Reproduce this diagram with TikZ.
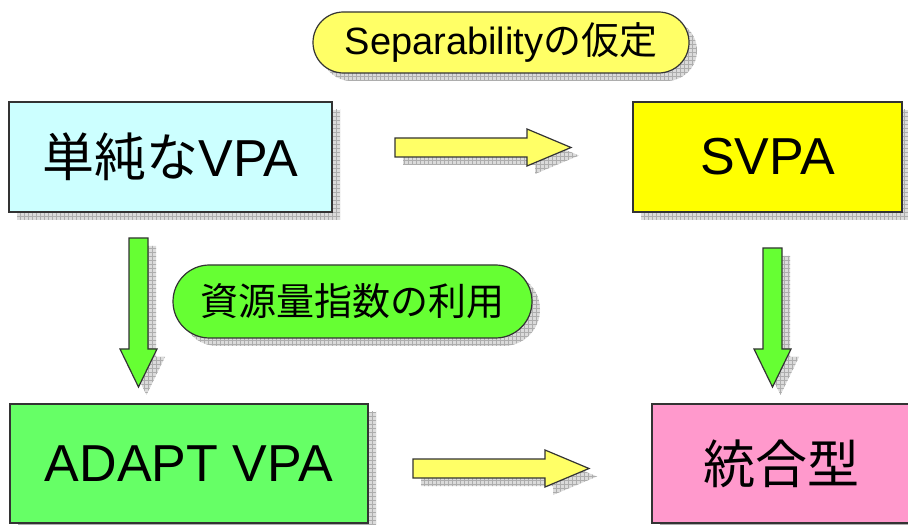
\documentclass[tikz,border=0pt]{standalone}
\usepackage{fontspec}
\setmainfont{Liberation Sans}
\newfontfamily\jpfont{Noto Sans CJK JP}
\usetikzlibrary{shapes, shapes.misc, arrows, shadows, calc, positioning, patterns.meta}
\definecolor{boxcyan}{rgb}{0.8, 1.0, 1.0}
\definecolor{boxyellow}{rgb}{1.0, 1.0, 0}
\definecolor{boxgreen}{rgb}{0.4, 1.0, 0.4}
\definecolor{boxpink}{rgb}{1.0, 0.6, 0.8}
\definecolor{lemon}{rgb}{1.0, 1.0, 0.4}
\definecolor{lime}{rgb}{0.4, 1.0, 0.2}

\tikzset{
    gridshadow/.style={
        drop shadow={shadow xshift=4pt, shadow yshift=-4pt, opacity=1, fill=black!14},
        drop shadow={shadow xshift=4pt, shadow yshift=-4pt, opacity=1,
            pattern={Hatch[angle=0, distance=2pt, line width=0.3pt]}, pattern color=black!32}},
    block/.style={draw=black!80, line width=0.6pt, rectangle, inner sep=0pt, gridshadow,
        font=\fontsize{26pt}{31pt}\selectfont},
    bubble/.style={draw=black!80, line width=0.6pt, rounded rectangle, inner sep=0pt, gridshadow},
    blockarrow/.style={draw=black!80, line width=0.6pt, line join=miter, gridshadow}
}

% fat arrows: tail point, length, colour
\newcommand{\harrow}[3]{%
    \draw[blockarrow, fill=#3] #1 -- ++(0,9.5) -- ++({#2-44},0) -- ++(0,9) -- ++(44,-18.5)
        -- ++(-44,-18.5) -- ++(0,9) -- ++({44-#2},0) -- cycle;}
\newcommand{\varrow}[3]{%
    \draw[blockarrow, fill=#3] #1 -- ++(9.5,0) -- ++(0,{38-#2}) -- ++(9,0) -- ++(-18.5,-38)
        -- ++(-18.5,38) -- ++(9,0) -- ++(0,{#2-38}) -- cycle;}

\begin{document}
\begin{tikzpicture}[x=0.5pt, y=0.5pt]
    \clip (0,0) rectangle (908,524);

    \node[block, fill=boxcyan, minimum width=161.5pt, minimum height=55pt] (simple) at (170.5,367) {{\jpfont 単純な}VPA};
    \node[block, fill=boxyellow, minimum width=134.5pt, minimum height=55pt] (svpa) at (767.5,367) {SVPA};
    \node[block, fill=boxgreen, minimum width=179pt, minimum height=59.5pt] (adapt) at (189,60.5) {ADAPT VPA};
    \node[block, fill=boxpink, minimum width=129pt, minimum height=59.5pt] (merged) at (781,60.5) {\jpfont 統合型};

    \node[bubble, fill=lemon, minimum width=188pt, minimum height=30.5pt,
        font=\fontsize{19pt}{23pt}\selectfont] (sep) at (501,481.5) {Separability{\jpfont の仮定}};
    \node[bubble, fill=lime, minimum width=179.5pt, minimum height=36.5pt,
        font=\jpfont\fontsize{19pt}{23pt}\selectfont] (res) at (352.5,222.5) {資源量指数の利用};

    \harrow{(395,376.5)}{176}{lemon}
    \harrow{(413,55.5)}{176}{lemon}
    \varrow{(138.5,286)}{149}{lime}
    \varrow{(772.5,276)}{139}{lime}
\end{tikzpicture}
\end{document}
